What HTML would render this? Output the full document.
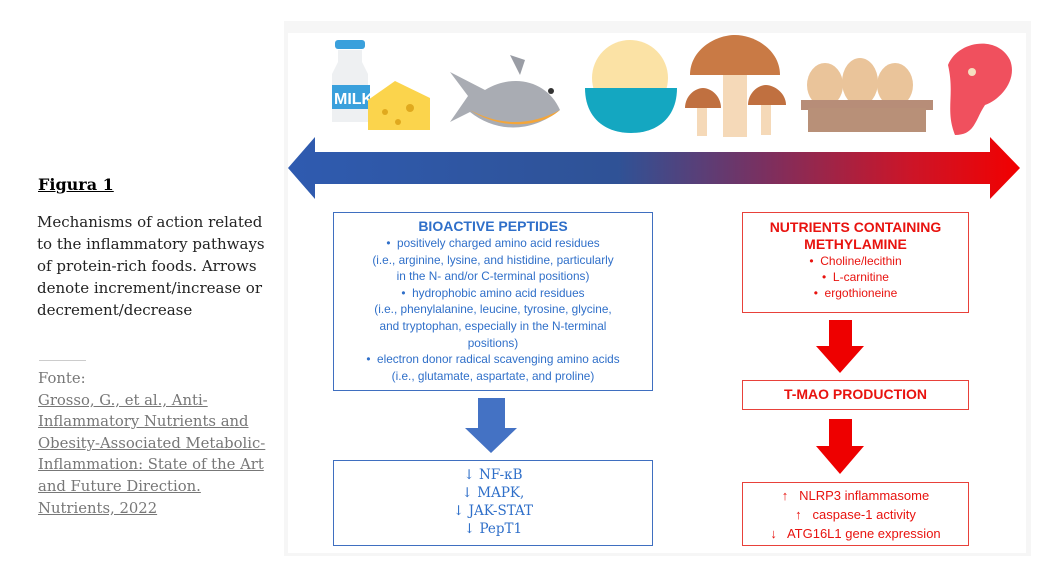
<!DOCTYPE html>
<html><head><meta charset="utf-8"><style>
body{margin:0;width:1047px;height:582px;background:#fff;position:relative;overflow:hidden;font-family:"Liberation Sans",Arial,sans-serif}
.a{position:absolute}
.cap{font-family:"DejaVu Serif",serif;color:#222;white-space:nowrap}
.box{position:absolute;border:1.5px solid;box-sizing:border-box;text-align:center;white-space:nowrap}
.b{border-color:#3f6fc0;color:#2f6fc9}
.r{border-color:#e8413a;color:#e8130f}
</style></head><body>
<div class="a cap" style="left:38px;top:175px;font-size:16px;font-weight:900;text-decoration:underline;color:#000">Figura 1</div>
<div class="a cap" style="left:37px;top:211px;font-size:15px;line-height:22px">Mechanisms of action related<br>to the inflammatory pathways<br>of protein-rich foods. Arrows<br>denote increment/increase or<br>decrement/decrease</div>
<div class="a" style="left:39px;top:360px;width:47px;height:1px;background:#ccc"></div>
<div class="a cap" style="left:38px;top:368px;font-size:14.8px;line-height:21.6px;color:#777">Fonte:<br><span style="text-decoration:underline">Grosso, G., et al., Anti-<br>Inflammatory Nutrients and<br>Obesity-Associated Metabolic-<br>Inflammation: State of the Art<br>and Future Direction.<br>Nutrients, 2022</span></div>
<div class="a" style="left:284px;top:21px;width:747px;height:535px;background:#f6f6f6"></div>
<div class="a" style="left:288px;top:33px;width:738px;height:520px;background:#fff"></div>
<svg class="a" style="left:0;top:0" width="1047" height="582">
<defs><linearGradient id="g" x1="0" x2="1"><stop offset="0" stop-color="#2f5bb0"/><stop offset="0.45" stop-color="#2f5296"/><stop offset="0.65" stop-color="#7a3060"/><stop offset="0.85" stop-color="#cc1528"/><stop offset="1" stop-color="#f20000"/></linearGradient></defs>
<polygon points="288,168 315,137 315,152 990,152 990,137 1020,168 990,199 990,184 315,184 315,199" fill="url(#g)"/>
<rect x="335" y="40" width="30" height="9" rx="3" fill="#3aa0dc"/>
<path d="M338 50h24v12l6 12v48h-36v-48l6-12z" fill="#eef0f2"/>
<rect x="332" y="85" width="38" height="24" fill="#3aa0dc"/>
<text x="334" y="104" font-size="16" font-weight="bold" fill="#fff">MILK</text>
<polygon points="368,100 395,81 430,98 430,130 368,130" fill="#fbd44c"/>
<circle cx="385" cy="112" r="3" fill="#e0a91e"/><circle cx="410" cy="108" r="4" fill="#e0a91e"/><circle cx="398" cy="122" r="3" fill="#e0a91e"/>
<path d="M450 72l18 24-18 26 20-10c25 20 60 22 90-2-12-28-45-38-75-20z" fill="#a9acb3"/>
<path d="M470 110c30 16 60 16 90 0-20 18-60 20-90 0z" fill="#f4a63a"/>
<polygon points="510,55 525,60 520,75" fill="#9a9da5"/>
<circle cx="551" cy="91" r="3" fill="#333"/>
<ellipse cx="630" cy="78" rx="38" ry="38" fill="#fbe2a5"/>
<path d="M585 88h92c0 30-20 45-46 45s-46-15-46-45z" fill="#14a7c1"/>
<path d="M690 75c0-25 25-40 45-40s45 15 45 40z" fill="#c97a45"/>
<rect x="723" y="75" width="24" height="62" fill="#f5d9b8"/>
<path d="M685 108c0-12 10-20 18-20s18 8 18 20z" fill="#c07040"/><rect x="697" y="108" width="10" height="28" fill="#f5d9b8"/>
<path d="M748 105c0-12 10-20 18-20s20 8 20 20z" fill="#c07040"/><rect x="761" y="105" width="10" height="30" fill="#f5d9b8"/>
<ellipse cx="825" cy="85" rx="18" ry="22" fill="#eac49a"/><ellipse cx="860" cy="82" rx="18" ry="24" fill="#eac49a"/><ellipse cx="895" cy="85" rx="18" ry="22" fill="#eac49a"/>
<rect x="801" y="100" width="132" height="10" fill="#b78d78"/>
<rect x="808" y="108" width="118" height="24" fill="#b89078"/>
<path d="M948 65c10-25 50-30 62-5 8 20-10 40-25 45-10 15-10 30-30 30-10-25 0-40-7-70z" fill="#f0505e"/>
<circle cx="972" cy="72" r="4" fill="#f5e0c0"/>
<polygon points="478,398 505,398 505,428 517,428 491,453 465,428 478,428" fill="#4472c4"/>
<polygon points="829,320 852,320 852,346 864,346 840,373 816,346 829,346" fill="#ee0000"/>
<polygon points="829,419 852,419 852,446 864,446 840,474 816,446 829,446" fill="#ee0000"/>
</svg>
<div class="box b" style="left:333px;top:212px;width:320px;height:179px;font-size:11.8px;line-height:16.6px;padding-top:5px">
<div style="font-weight:bold;font-size:14px;line-height:17px">BIOACTIVE PEPTIDES</div>
•&nbsp; positively charged amino acid residues<br>(i.e., arginine, lysine, and histidine, particularly<br>in the N- and/or C-terminal positions)<br>•&nbsp; hydrophobic amino acid residues<br>(i.e., phenylalanine, leucine, tyrosine, glycine,<br>and tryptophan, especially in the N-terminal<br>positions)<br>•&nbsp; electron donor radical scavenging amino acids<br>(i.e., glutamate, aspartate, and proline)</div>
<div class="box b" style="left:333px;top:460px;width:320px;height:86px;font-family:'DejaVu Serif',serif;font-size:13.5px;line-height:18px;padding-top:5px">↓ NF-κB<br>↓ MAPK,<br>↓ JAK-STAT<br>↓ PepT1</div>
<div class="box r" style="left:742px;top:212px;width:227px;height:101px;font-size:12px;line-height:16px;padding-top:6px">
<div style="font-weight:bold;font-size:14px;line-height:17px">NUTRIENTS CONTAINING<br>METHYLAMINE</div>
•&nbsp; Choline/lecithin<br>•&nbsp; L-carnitine<br>•&nbsp; ergothioneine</div>
<div class="box r" style="left:742px;top:380px;width:227px;height:30px;font-size:14px;font-weight:bold;line-height:27px">T-MAO PRODUCTION</div>
<div class="box r" style="left:742px;top:482px;width:227px;height:64px;font-size:13px;line-height:19px;padding-top:3px">↑&nbsp;&nbsp; NLRP3 inflammasome<br>↑&nbsp;&nbsp; caspase-1 activity<br>↓&nbsp;&nbsp; ATG16L1 gene expression</div>
</body></html>
